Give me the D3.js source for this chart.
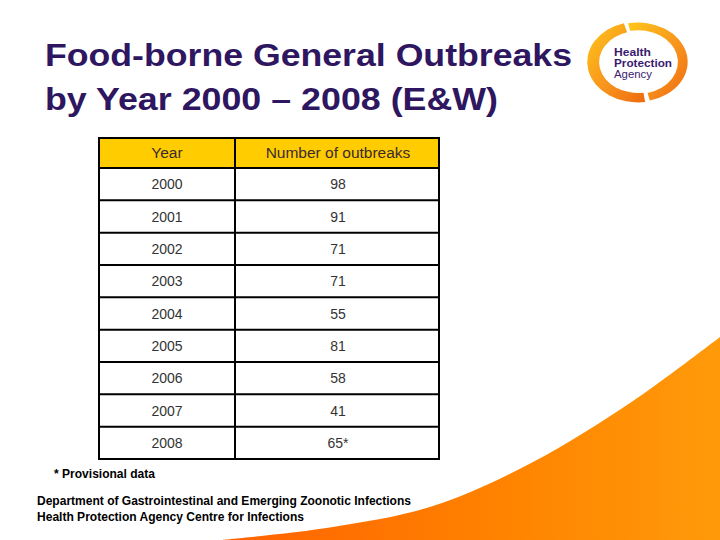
<!DOCTYPE html>
<html>
<head>
<meta charset="utf-8">
<script src="https://cdn.jsdelivr.net/npm/d3@7"></script>
<style>
  body { margin: 0; background: #fff; }
  svg { display: block; font-family: "Liberation Sans", Arial, sans-serif; }
</style>
</head>
<body>
<div id="slide"></div>
<script>
// table data
var years = ["2000", "2001", "2002", "2003", "2004", "2005", "2006", "2007", "2008"];
var outbreaks = [98, 91, 71, 71, 55, 81, 58, 41, 65];
var provisional = [false, false, false, false, false, false, false, false, true];
var headers = ["Year", "Number of outbreaks"];

var svgWidth = 720;
var svgHeight = 540;

var svg = d3.select("#slide")
    .append("svg")
    .attr("width", svgWidth)
    .attr("height", svgHeight);

var defs = svg.append("defs");

// orange swoosh gradient
var grad = defs.append("linearGradient")
    .attr("id", "swoosh")
    .attr("x1", "0%").attr("x2", "100%")
    .attr("y1", "0%").attr("y2", "0%");
grad.append("stop").attr("offset", "0%").attr("stop-color", "#ff6200");
grad.append("stop").attr("offset", "60%").attr("stop-color", "#ff8500");
grad.append("stop").attr("offset", "100%").attr("stop-color", "#ff9a0a");

var ringGrad = defs.append("linearGradient")
    .attr("id", "ring")
    .attr("x1", "0%").attr("x2", "100%")
    .attr("y1", "0%").attr("y2", "100%");
ringGrad.append("stop").attr("offset", "0%").attr("stop-color", "#ffc61a");
ringGrad.append("stop").attr("offset", "55%").attr("stop-color", "#f7941d");
ringGrad.append("stop").attr("offset", "100%").attr("stop-color", "#ef6a10");

// bottom right swoosh
var edge = [[222, 540], [333, 527], [433, 506], [533, 462], [633, 401], [720, 337]];
var swooshLine = d3.line().curve(d3.curveCatmullRom);
svg.append("path")
    .attr("d", swooshLine(edge) + "L720,540Z")
    .attr("fill", "url(#swoosh)");

// title
var title = svg.append("g").attr("fill", "#2e1660")
    .attr("font-weight", "bold").attr("font-size", 31);
title.append("text").attr("x", 45).attr("y", 66)
    .attr("textLength", 527).attr("lengthAdjust", "spacingAndGlyphs")
    .text("Food-borne General Outbreaks");
title.append("text").attr("x", 45).attr("y", 110)
    .attr("textLength", 453).attr("lengthAdjust", "spacingAndGlyphs")
    .text("by Year 2000 \u2013 2008 (E&W)");

// logo
var logo = svg.append("g");
logo.append("path")
    .attr("d", d3.arc()({innerRadius: 37, outerRadius: 46, startAngle: -0.2, endAngle: 2.9}))
    .attr("transform", "translate(638,62) scale(1.08,0.86)")
    .attr("fill", "url(#ring)");
logo.append("path")
    .attr("d", d3.arc()({innerRadius: 36, outerRadius: 47, startAngle: 3.0, endAngle: 6.0}))
    .attr("transform", "translate(638,62) scale(1.08,0.86)")
    .attr("fill", "url(#ring)");
var logoText = logo.append("g").attr("fill", "#3b1a70").attr("font-size", 11);
logoText.append("text").attr("x", 614).attr("y", 56).attr("font-weight", "bold")
    .attr("textLength", 37).attr("lengthAdjust", "spacingAndGlyphs").text("Health");
logoText.append("text").attr("x", 614).attr("y", 67).attr("font-weight", "bold")
    .attr("textLength", 58).attr("lengthAdjust", "spacingAndGlyphs").text("Protection");
logoText.append("text").attr("x", 614).attr("y", 78)
    .attr("textLength", 38).attr("lengthAdjust", "spacingAndGlyphs").text("Agency");

// table
var tableLeft = 99, tableRight = 439, colSplit = 235;
var headTop = 138, headBottom = 168, tableBottom = 459;

var x = d3.scaleOrdinal()
    .domain(headers)
    .range([(tableLeft + colSplit) / 2, (colSplit + tableRight) / 2 + 1]);

var y = d3.scaleBand()
    .domain(years)
    .range([headBottom, tableBottom]);

var table = svg.append("g");

table.append("rect")
    .attr("x", tableLeft).attr("y", headTop)
    .attr("width", tableRight - tableLeft).attr("height", headBottom - headTop)
    .attr("fill", "#ffcc00");

table.selectAll(".head")
    .data(headers)
    .enter()
    .append("text")
    .attr("class", "head")
    .attr("x", d => x(d))
    .attr("y", (headTop + headBottom) / 2 + 5)
    .attr("text-anchor", "middle")
    .attr("font-size", 15.5)
    .attr("fill", "#3a2a30")
    .text(d => d);

var rows = table.selectAll(".row")
    .data(years)
    .enter()
    .append("g")
    .attr("class", "row");

rows.append("text")
    .attr("x", x("Year"))
    .attr("y", d => y(d) + y.bandwidth() / 2 + 5)
    .attr("text-anchor", "middle")
    .attr("font-size", 14)
    .attr("fill", "#333")
    .text(d => d);

rows.append("text")
    .attr("x", x("Number of outbreaks"))
    .attr("y", d => y(d) + y.bandwidth() / 2 + 5)
    .attr("text-anchor", "middle")
    .attr("font-size", 14)
    .attr("fill", "#333")
    .text((d, i) => outbreaks[i] + (provisional[i] ? "*" : ""));

// grid lines
var lines = table.append("g").attr("stroke", "#000").attr("stroke-width", 2);
lines.selectAll(".hline")
    .data(years)
    .enter()
    .append("line")
    .attr("x1", tableLeft).attr("x2", tableRight)
    .attr("y1", d => y(d)).attr("y2", d => y(d));
lines.append("line")
    .attr("x1", colSplit).attr("x2", colSplit)
    .attr("y1", headTop).attr("y2", tableBottom);
lines.append("rect")
    .attr("x", tableLeft).attr("y", headTop)
    .attr("width", tableRight - tableLeft).attr("height", tableBottom - headTop)
    .attr("fill", "none");

// notes
var notes = svg.append("g").attr("font-weight", "bold").attr("font-size", 12).attr("fill", "#000");
notes.append("text").attr("x", 54).attr("y", 478)
    .attr("textLength", 101).attr("lengthAdjust", "spacingAndGlyphs")
    .text("* Provisional data");
notes.append("text").attr("x", 37).attr("y", 505)
    .attr("textLength", 374).attr("lengthAdjust", "spacingAndGlyphs")
    .text("Department of Gastrointestinal and Emerging Zoonotic Infections");
notes.append("text").attr("x", 37).attr("y", 521)
    .attr("textLength", 267).attr("lengthAdjust", "spacingAndGlyphs")
    .text("Health Protection Agency Centre for Infections");
</script>
</body>
</html>
